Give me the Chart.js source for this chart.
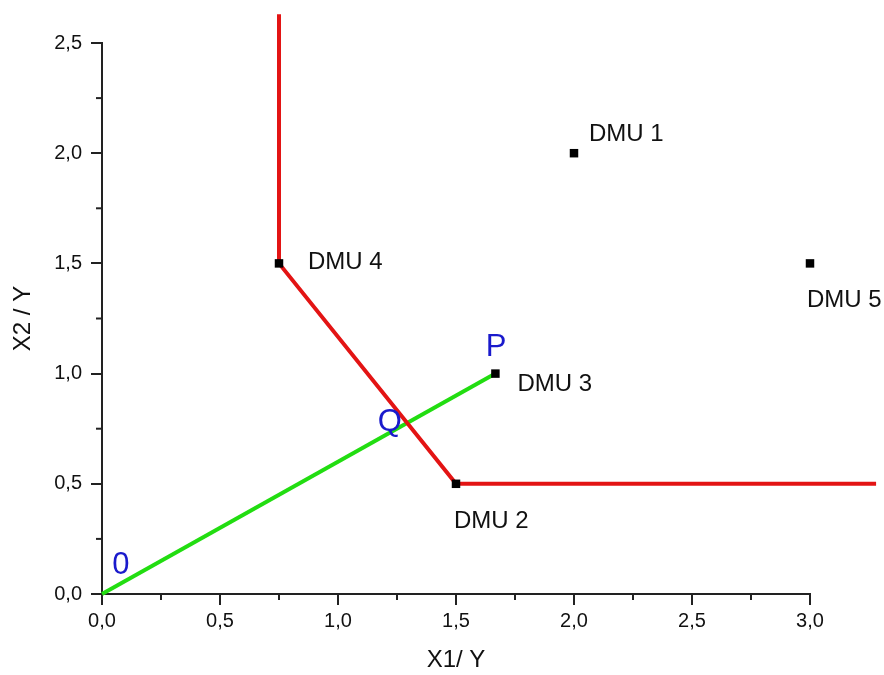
<!DOCTYPE html>
<html>
<head>
<meta charset="utf-8">
<script src="https://cdn.jsdelivr.net/npm/chart.js@4.4.0/dist/chart.umd.min.js"></script>
<style>
  html, body { margin: 0; padding: 0; background: #fff; }
  #wrap { width: 884px; height: 675px; }
</style>
</head>
<body>
<div id="wrap"><canvas id="myChart" width="884" height="675"></canvas></div>
<script>
// DMU points (X1/Y, X2/Y)
let dmu_names = ['DMU 1', 'DMU 2', 'DMU 3', 'DMU 4', 'DMU 5'];
let dmu_x = [2.0, 1.5, 1.667, 0.75, 3.0];
let dmu_y = [2.0, 0.5, 1.0, 1.5, 1.5];

// efficient frontier (red)
let frontier_x = [0.75, 0.75, 1.5, 3.28];
let frontier_y = [2.63, 1.5, 0.5, 0.5];

// ray from origin to DMU 3 (green)
let ray_x = [0, 1.667];
let ray_y = [0, 1.0];

// blue point letters
let letter_names = ['0', 'Q', 'P'];
let letter_x = [0.08, 1.22, 1.67];
let letter_y = [0.13, 0.78, 1.12];

let x_ticks = [0, 0.5, 1.0, 1.5, 2.0, 2.5, 3.0];
let y_ticks = [0, 0.5, 1.0, 1.5, 2.0, 2.5];

// label offsets in px from the point (style only)
let dmu_label_offset = [[15, -19], [-2, 38], [22, 11], [29, -1], [-3, 37]];

function toPoints(xs, ys) {
  return xs.map(function (x, i) { return { x: x, y: ys[i] }; });
}

function fmt(v) {
  return v.toFixed(1).replace('.', ',');
}

// minor ticks + text labels
let extras = {
  id: 'extras',
  afterDraw: function (chart) {
    let ctx = chart.ctx;
    let xs = chart.scales.x, ys = chart.scales.y;
    ctx.save();
    ctx.strokeStyle = '#222';
    ctx.lineWidth = 2;
    for (let v = 0.25; v < 3; v += 0.5) {
      let px = xs.getPixelForValue(v);
      ctx.beginPath();
      ctx.moveTo(px, ys.bottom);
      ctx.lineTo(px, ys.bottom + 6);
      ctx.stroke();
    }
    for (let v = 0.25; v < 2.5; v += 0.5) {
      let py = ys.getPixelForValue(v);
      ctx.beginPath();
      ctx.moveTo(xs.left, py);
      ctx.lineTo(xs.left - 6, py);
      ctx.stroke();
    }

    ctx.fillStyle = '#111';
    ctx.font = '24px "Liberation Sans", Arial, sans-serif';
    ctx.textBaseline = 'middle';
    ctx.textAlign = 'left';
    dmu_names.forEach(function (n, i) {
      let px = xs.getPixelForValue(dmu_x[i]) + dmu_label_offset[i][0];
      let py = ys.getPixelForValue(dmu_y[i]) + dmu_label_offset[i][1];
      ctx.fillText(n, px, py);
    });

    ctx.fillStyle = '#1a1acc';
    ctx.font = '31px "Liberation Sans", Arial, sans-serif';
    ctx.textAlign = 'center';
    letter_names.forEach(function (n, i) {
      ctx.fillText(n, xs.getPixelForValue(letter_x[i]), ys.getPixelForValue(letter_y[i]));
    });
    ctx.restore();
  }
};

let tickFont = { family: '"Liberation Sans", Arial, sans-serif', size: 20 };
let titleFont = { family: '"Liberation Sans", Arial, sans-serif', size: 24 };

let ctx = document.getElementById('myChart').getContext('2d');
let mychart = new Chart(ctx, {
  type: 'scatter',
  data: {
    datasets: [
      {
        label: 'frontier',
        type: 'line',
        data: toPoints(frontier_x, frontier_y),
        borderColor: '#e31414',
        borderWidth: 4,
        pointRadius: 0,
        tension: 0,
        clip: false,
        order: 2
      },
      {
        label: 'ray',
        type: 'line',
        data: toPoints(ray_x, ray_y),
        borderColor: '#22dd11',
        borderWidth: 4,
        pointRadius: 0,
        tension: 0,
        clip: false,
        order: 3
      },
      {
        label: 'DMU',
        data: toPoints(dmu_x, dmu_y),
        pointStyle: 'rect',
        pointRadius: 6,
        backgroundColor: '#000',
        borderColor: '#000',
        borderWidth: 0,
        clip: false,
        order: 1
      }
    ]
  },
  options: {
    responsive: false,
    animation: false,
    layout: { padding: { left: 0, right: 74, top: 43, bottom: 0 } },
    plugins: {
      legend: { display: false },
      tooltip: { enabled: false }
    },
    scales: {
      x: {
        type: 'linear',
        min: 0,
        max: 3,
        afterFit: function (s) { s.height = 81; },
        afterBuildTicks: function (s) { s.ticks = x_ticks.map(function (v) { return { value: v }; }); },
        border: { color: '#222', width: 2 },
        grid: { drawOnChartArea: false, tickLength: 11, tickColor: '#222', lineWidth: 2 },
        ticks: { color: '#111', font: tickFont, padding: 4, callback: fmt, maxRotation: 0 },
        title: { display: true, text: 'X1/ Y', color: '#111', font: titleFont, padding: { top: 12, bottom: 0 } }
      },
      y: {
        type: 'linear',
        min: 0,
        max: 2.5,
        afterFit: function (s) { s.width = 102; },
        afterBuildTicks: function (s) { s.ticks = y_ticks.map(function (v) { return { value: v }; }); },
        border: { color: '#222', width: 2 },
        grid: { drawOnChartArea: false, tickLength: 11, tickColor: '#222', lineWidth: 2 },
        ticks: { color: '#111', font: tickFont, padding: 9, callback: fmt },
        title: { display: true, text: 'X2 / Y', color: '#111', font: titleFont, padding: { top: 9, bottom: 0 } }
      }
    }
  },
  plugins: [extras]
});
</script>
</body>
</html>
